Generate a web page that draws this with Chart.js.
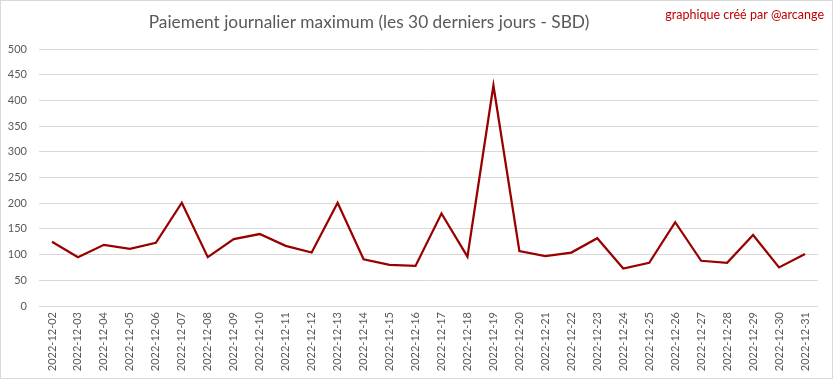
<!DOCTYPE html>
<html>
<head>
<meta charset="utf-8">
<script src="https://cdn.jsdelivr.net/npm/chart.js@4"></script>
<style>
html,body{margin:0;padding:0;background:#fff;}
#wrap{position:relative;width:833px;height:379px;}
</style>
</head>
<body>
<div id="wrap"><canvas id="c" width="833" height="379"></canvas></div>
<script>
const dates = ["2022-12-02","2022-12-03","2022-12-04","2022-12-05","2022-12-06","2022-12-07","2022-12-08","2022-12-09","2022-12-10","2022-12-11","2022-12-12","2022-12-13","2022-12-14","2022-12-15","2022-12-16","2022-12-17","2022-12-18","2022-12-19","2022-12-20","2022-12-21","2022-12-22","2022-12-23","2022-12-24","2022-12-25","2022-12-26","2022-12-27","2022-12-28","2022-12-29","2022-12-30","2022-12-31"];
const maxPayout = [125,95,119,111,123,201,95,130,140,117,104,201,91,80,78,180,96,429,107,97,104,132,73,84,163,88,84,138,75,101];
const titleText = "Paiement journalier maximum (les 30 derniers jours - SBD)";
const creditText = "graphique créé par @arcange";
const yTicks = {min:0, max:500, step:50};

const decor = {
  id:'decor',
  afterDraw(chart){
    const ctx = chart.ctx;
    ctx.save();
    ctx.strokeStyle = '#d9d9d9';
    ctx.lineWidth = 1;
    ctx.strokeRect(0.5,0.5,chart.width-1,chart.height-1);
    ctx.fillStyle = '#595959';
    ctx.font = '17.3px Lato';
    ctx.textAlign = 'center';
    ctx.textBaseline = 'middle';
    ctx.fillText(titleText, 369, 22);
    ctx.fillStyle = '#c00000';
    ctx.font = '12.5px Lato';
    ctx.textAlign = 'right';
    ctx.fillText(creditText, 824, 15);
    ctx.restore();
  }
};

new Chart(document.getElementById('c'), {
  type:'line',
  data:{labels:dates, datasets:[{data:maxPayout, borderColor:'#990000', borderWidth:2.25, pointRadius:0, tension:0, fill:false}]},
  options:{
    responsive:false, animation:false,
    layout:{padding:{top:49,left:0,right:15,bottom:0}},
    plugins:{legend:{display:false}, title:{display:false}, tooltip:{enabled:false}},
    scales:{
      x:{
        offset:true,
        grid:{display:false, drawTicks:false},
        border:{display:false},
        ticks:{autoSkip:false, maxRotation:90, minRotation:90, color:'#595959', font:{family:'Lato', size:11}, padding:6},
        afterFit(s){ s.height = 73; }
      },
      y:{
        min:yTicks.min, max:yTicks.max,
        grid:{color:'#d9d9d9', drawTicks:false, lineWidth:1},
        border:{display:false},
        ticks:{stepSize:yTicks.step, color:'#595959', font:{family:'Lato', size:11}, padding:12},
        afterFit(s){ s.width = 39; }
      }
    }
  },
  plugins:[decor]
});
</script>
</body>
</html>
